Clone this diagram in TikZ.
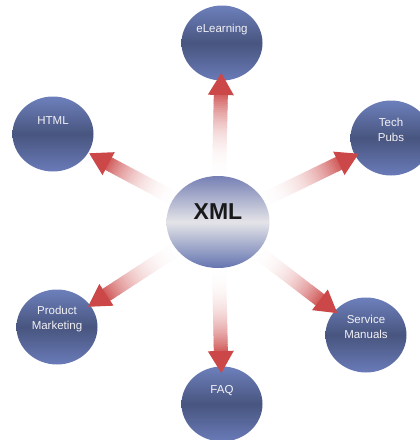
\documentclass[tikz,border=0pt]{standalone}
\usepackage{fontspec}
\setmainfont{Liberation Sans}
\usetikzlibrary{calc,shapes.geometric}
\definecolor{bubtop}{HTML}{6E80BC}
\definecolor{bubmid}{HTML}{48557F}
\definecolor{bubbot}{HTML}{6A7BB8}
\definecolor{xmltop}{HTML}{7680B4}
\definecolor{xmlmid}{HTML}{E4E4E8}
\definecolor{xmlbot}{HTML}{6474B0}
\definecolor{arrred}{HTML}{CC4848}
\definecolor{lbltext}{HTML}{F2F2F6}
\pgfdeclarelayer{front}
\pgfsetlayers{main,front}
\tikzset{
  bub/.style={ellipse, minimum width=81pt, minimum height=75pt, inner sep=0pt,
    top color=bubtop, bottom color=bubbot, middle color=bubmid},
  xmlbub/.style={ellipse, minimum width=103pt, minimum height=92pt, inner sep=0pt,
    top color=xmltop, bottom color=xmlbot, middle color=xmlmid},
  lbl/.style={text=lbltext, font=\fontsize{11.5}{15.5}\selectfont, align=center, inner sep=0pt},
  xmllbl/.style={text=black!90, font=\fontsize{23}{25}\selectfont\bfseries, inner sep=0pt},
  headfill/.style={fill=arrred},
}
\newcommand{\blockarrow}[4]{%
  \coordinate (as) at ($(#1.center)!#3!(#2.center)$);
  \coordinate (at) at ($(#2.center)!#4!(#1.center)$);
  \coordinate (ab) at ($(at)!22pt!(as)$);
  \foreach \i in {1,...,40}{%
    \pgfmathsetmacro\ta{(\i-1)/40}%
    \pgfmathsetmacro\tb{\i/40+0.01}%
    \pgfmathsetmacro\pc{88*((\i-0.5)/40)^2.6}%
    \coordinate (sa) at ($(as)!\ta!(ab)$);
    \coordinate (sb) at ($(as)!\tb!(ab)$);
    \fill[arrred!\pc!white] ($(sa)!7pt!90:(at)$) -- ($(sb)!7pt!90:(at)$) -- ($(sb)!7pt!-90:(at)$) -- ($(sa)!7pt!-90:(at)$) -- cycle;
  }
  \fill[headfill] ($(ab)!13pt!90:(at)$) -- (at) -- ($(ab)!13pt!-90:(at)$) -- cycle;
}
\begin{document}
\begin{tikzpicture}[x=1pt,y=-1pt]
\useasboundingbox (0,0) rectangle (420,440);
\fill[white] (0,0) rectangle (420,440);
\begin{pgfonlayer}{front}
\node[xmlbub, label={[xmllbl, yshift=10pt]center:XML}] (xml) at (218,222) {};
\end{pgfonlayer}
\node[bub, label={[lbl, yshift=13pt]center:eLearning}] (elearn) at (222,43) {};
\node[bub, label={[lbl, yshift=13pt]center:HTML}] (html) at (53,134) {};
\node[bub, label={[lbl, yshift=8pt]center:Tech\\Pubs}] (tech) at (391,138) {};
\node[bub, label={[lbl, yshift=8pt]center:Product\\Marketing}] (prod) at (57,327) {};
\node[bub, label={[lbl, yshift=8pt]center:Service\\Manuals}] (serv) at (366,335) {};
\node[bub, label={[lbl, yshift=13pt]center:FAQ}] (faq) at (222,404) {};
\blockarrow{xml}{elearn}{40pt}{30pt}
\blockarrow{xml}{html}{42pt}{41pt}
\blockarrow{xml}{tech}{42pt}{36pt}
\blockarrow{xml}{prod}{42pt}{37pt}
\blockarrow{xml}{serv}{42pt}{36pt}
\blockarrow{xml}{faq}{40pt}{31pt}
\end{tikzpicture}
\end{document}
